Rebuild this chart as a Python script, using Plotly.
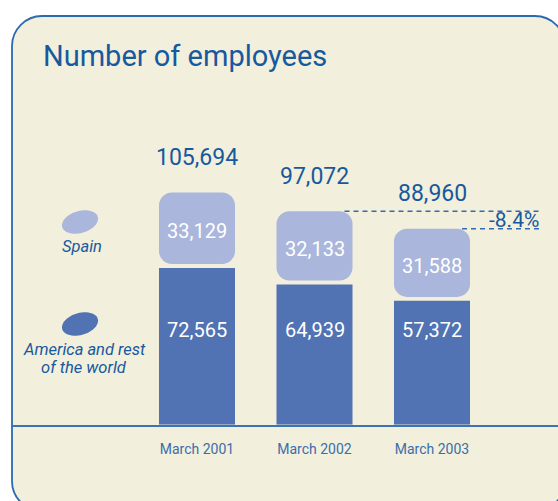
import math
import plotly.graph_objects as go

# Headcount by period (March of each year)
periods = ["March 2001", "March 2002", "March 2003"]
spain = [33129, 32133, 31588]
america_rest = [72565, 64939, 57372]
totals = [105694, 97072, 88960]

W, H = 558, 501
TITLE_BLUE = "#17599F"
LINE_BLUE = "#3B74B2"
LIGHT = "#AAB6DB"
DARK = "#5173B3"
CREAM = "#F2EFDC"
FONT = "Roboto"

BASE_PX = 424.7          # pixel row of the baseline
UNITS_PER_PX = 463.0     # employees per pixel
GAP = 1800               # visual gap between stacked segments (employees)
BAR_W = 0.647
X_LEFT_PX, CAT0_PX, CAT_STEP = 12, 197, 117.5


def px(x, y):
    return x / W, 1 - y / H


def xdata(xp):
    return (xp - CAT0_PX) / CAT_STEP


def rounded_rect(l, t, r, b, rad):
    k = 0.5523 * rad
    def P(x, y):
        a, c = px(x, y)
        return f"{a:.5f},{c:.5f}"
    return (f"M{P(l + rad, t)} L{P(r - rad, t)} C{P(r - rad + k, t)} {P(r, t + rad - k)} {P(r, t + rad)} "
            f"L{P(r, b - rad)} C{P(r, b - rad + k)} {P(r - rad + k, b)} {P(r - rad, b)} "
            f"L{P(l + rad, b)} C{P(l + rad - k, b)} {P(l, b - rad + k)} {P(l, b - rad)} "
            f"L{P(l, t + rad)} C{P(l, t + rad - k)} {P(l + rad - k, t)} {P(l + rad, t)} Z")


def ellipse_path(cx, cy, rx, ry, angle_deg, n=48):
    a = math.radians(angle_deg)
    seg = []
    for i in range(n):
        t = 2 * math.pi * i / n
        ex, ey = rx * math.cos(t), ry * math.sin(t)
        x = cx + ex * math.cos(a) - ey * math.sin(a)
        y = cy + ex * math.sin(a) + ey * math.cos(a)
        xx, yy = px(x, y)
        seg.append(f"{'M' if i == 0 else 'L'}{xx:.5f},{yy:.5f}")
    return " ".join(seg) + " Z"


xs = list(range(len(periods)))
light_base = [a + GAP for a in america_rest]

fig = go.Figure()
fig.add_trace(go.Bar(x=xs, y=america_rest, width=BAR_W, marker=dict(color=DARK, line=dict(width=0)),
                     hoverinfo="skip"))
fig.add_trace(go.Bar(x=xs, y=spain, base=light_base, width=BAR_W,
                     marker=dict(color=LIGHT, line=dict(width=0), cornerradius=13), hoverinfo="skip"))

shapes = [
    dict(type="path", xref="paper", yref="paper", layer="below",
         path=rounded_rect(12, 16, 565, 511, 30), fillcolor=CREAM,
         line=dict(color="#2B6AB0", width=1.8)),
    dict(type="path", xref="paper", yref="paper", path=ellipse_path(80, 222, 18.5, 11, -16),
         fillcolor=LIGHT, line=dict(width=0)),
    dict(type="path", xref="paper", yref="paper", path=ellipse_path(80, 324, 18.5, 11, -16),
         fillcolor=DARK, line=dict(width=0)),
]

# dashed reference lines at the last two bar tops
x_end = xdata(541)
for i in (1, 2):
    y_top = totals[i] + GAP
    shapes.append(dict(type="line", xref="x", yref="y", x0=i + BAR_W / 2 - 8 / CAT_STEP, x1=x_end,
                       y0=y_top, y1=y_top, line=dict(color="#2F6CB0", width=1.5, dash="5px,4px")))

ann = []
# totals above bars
for i, t in enumerate(totals):
    ann.append(dict(x=i, y=t + GAP, xref="x", yref="y", text=f"{t:,}", showarrow=False,
                    yanchor="middle", yshift=35, font=dict(family=FONT, size=23, color=TITLE_BLUE)))
# segment labels
for i, (s, a) in enumerate(zip(spain, america_rest)):
    ann.append(dict(x=i, y=a + GAP + s / 2, xref="x", yref="y", text=f"{s:,}", showarrow=False,
                    yanchor="middle", yshift=-3, font=dict(family=FONT, size=20, color="white")))
    ann.append(dict(x=i, y=px(0, 330)[1], xref="x", yref="paper", text=f"{a:,}", showarrow=False,
                    yanchor="middle", font=dict(family=FONT, size=20, color="white")))

change = (totals[2] - totals[1]) / totals[1] * 100
ann.append(dict(x=x_end, y=(totals[1] + totals[2]) / 2 + GAP, xref="x", yref="y", text=f"{change:.1f}%",
                showarrow=False, xanchor="right", yanchor="middle",
                font=dict(family=FONT, size=21, color=TITLE_BLUE)))

# title
tx, ty = px(41, 56)
ann.append(dict(x=tx, y=ty, xref="paper", yref="paper", text="Number of employees", showarrow=False,
                xanchor="left", yanchor="middle",
                font=dict(family=FONT, size=29, color=TITLE_BLUE)))

# legend labels
for text, (lx, ly) in [("Spain", (82, 247)), ("America and rest", (84, 349)), ("of the world", (84, 367))]:
    xx, yy = px(lx, ly)
    ann.append(dict(x=xx, y=yy, xref="paper", yref="paper", text=f"<i>{text}</i>", showarrow=False,
                    xanchor="center", yanchor="middle",
                    font=dict(family=FONT, size=16.5, color=TITLE_BLUE)))

y_dom0 = 1 - BASE_PX / H
fig.update_layout(
    width=W, height=H, margin=dict(l=0, r=0, t=0, b=0),
    paper_bgcolor="white", plot_bgcolor="rgba(0,0,0,0)",
    barmode="overlay", showlegend=False,
    shapes=shapes, annotations=ann,
    xaxis=dict(domain=[X_LEFT_PX / W, 1], range=[xdata(X_LEFT_PX), xdata(W)],
               tickvals=xs, ticktext=periods, showgrid=False, zeroline=False,
               showline=True, linecolor=LINE_BLUE, linewidth=2,
               ticks="outside", ticklen=10, tickcolor="rgba(0,0,0,0)",
               tickfont=dict(family=FONT, size=14, color="#3A6EAB"),
               fixedrange=True),
    yaxis=dict(domain=[y_dom0, 1], range=[0, BASE_PX * UNITS_PER_PX], visible=False, fixedrange=True),
)

fig.write_html("out.html")
